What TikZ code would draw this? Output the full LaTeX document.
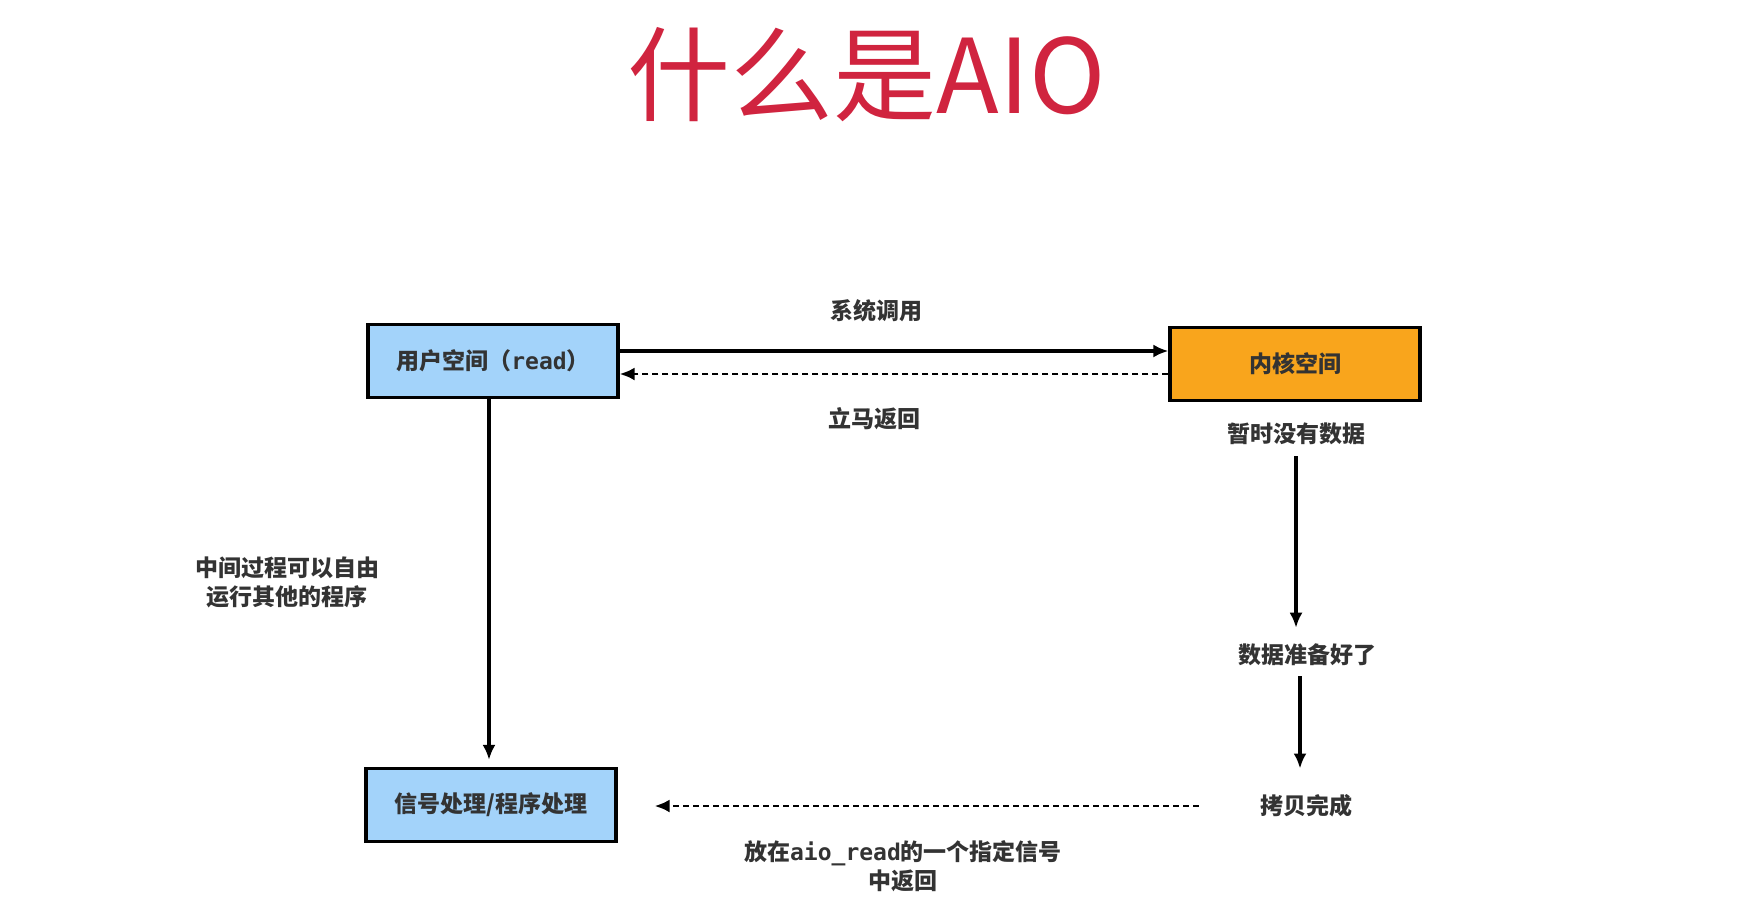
\documentclass[tikz,border=0pt]{standalone}
\usepackage{fontspec}
\setmainfont{Noto Sans CJK SC}
\newfontfamily\codefont{DejaVu Sans Mono}
\usetikzlibrary{arrows.meta,positioning,calc}
\definecolor{titlered}{HTML}{D0243F}
\definecolor{userblue}{HTML}{A3D3FA}
\definecolor{kernelorange}{HTML}{F9A51C}
\definecolor{inkgray}{HTML}{333333}

\begin{document}
\begin{tikzpicture}[x=1pt,y=-1pt,
 panel/.style={draw=black,line width=3.2pt,minimum width=250pt,minimum height=73pt,inner sep=0pt,font=\fontsize{23}{26}\selectfont\bfseries,text=inkgray},
 note/.style={font=\fontsize{23}{29}\selectfont\bfseries,text=inkgray,align=center,inner sep=6pt},
 flow/.style={line width=3.2pt,-{Latex[length=15pt,width=13pt]}},
 back/.style={flow,line width=2.8pt,dash pattern=on 6pt off 4pt}]
\useasboundingbox (0,0) rectangle (1749,916);
\node[font=\fontsize{103}{108}\selectfont,text=titlered] (title) at (867,75) {什么是AIO};
\node[panel,fill=userblue] (user) at (493,361) {用户空间（{\codefont\bfseries read}）};
\node[panel,fill=kernelorange] (kernel) at (1295,364) {内核空间};
\node[panel,fill=userblue] (signal) at (491,805) {信号处理/程序处理};
\node[note] (syscall) at (876,311) {系统调用};
\node[note] (instant) at (874,419) {立马返回};
\node[note] (nodata) at (1296,434) {暂时没有数据};
\node[note] (ready) at (1307,655) {数据准备好了};
\node[note] (copied) at (1306,806) {拷贝完成};
\node[note] (freerun) at (287,582) {中间过程可以自由\\运行其他的程序};
\node[note] (sigret) at (903,866) {放在{\codefont\bfseries aio\_read}的一个指定信号\\中返回};
\draw[flow] ([yshift=10pt]user.east) -- ([yshift=10pt]user.east -| kernel.west);
\draw[back] ([yshift=-10pt]kernel.west) -- ([yshift=-10pt]kernel.west -| user.east);
\draw[flow,shorten >=7pt] ([xshift=-4pt]user.south) -- ([xshift=-4pt]user.south |- signal.north);
\draw[flow,shorten <=5pt,shorten >=10pt] (nodata.south) -- (nodata.south |- ready.north);
\draw[flow,shorten <=4pt,shorten >=20pt] ([xshift=-7pt]ready.south) -- ([xshift=-7pt]ready.south |- copied.north);
\draw[back,shorten <=55pt,shorten >=37pt] (copied.west) -- (copied.west -| signal.east);
\end{tikzpicture}
\end{document}
